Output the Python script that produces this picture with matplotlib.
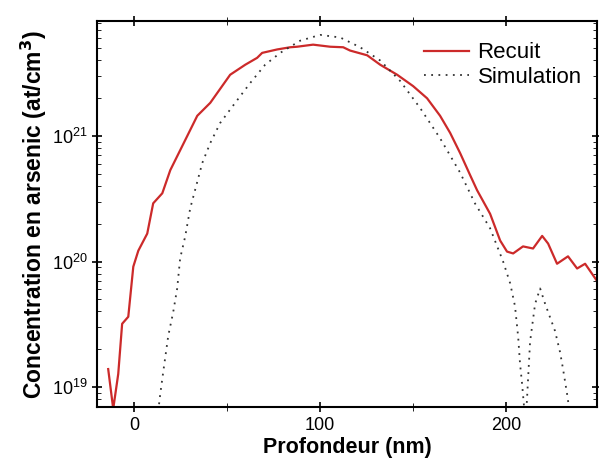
import matplotlib
matplotlib.use('Agg')
import matplotlib.pyplot as plt
import numpy as np

plt.rcParams['font.family'] = ['Liberation Sans', 'DejaVu Sans']

# Recuit (annealed) profile: depth (nm), concentration (at/cm3)
recuit_x = [-14.0, -11.3, -8.6, -6.5, -3.2, -0.5, 2.2, 7.0, 10.2, 15.1, 19.4,
            23.1, 28.5, 33.9, 40.9, 51.6, 59.7, 66.1, 68.8, 76.9, 83.9, 87.6,
            96.2, 105.4, 112.4, 116.1, 125.3, 132.3, 141.4, 150.0, 157.5,
            164.5, 169.9, 175.3, 180.6, 184.4, 191.4, 196.8, 200.5, 203.8,
            209.1, 214.5, 219.4, 222.6, 227.4, 233.3, 238.2, 242.5, 248.9]
recuit_c = [1.39e19, 6.7e18, 1.27e19, 3.19e19, 3.63e19, 9.1e19, 1.22e20,
            1.67e20, 2.91e20, 3.5e20, 5.35e20, 6.9e20, 1.0e21, 1.45e21,
            1.84e21, 3.08e21, 3.7e21, 4.2e21, 4.6e21, 4.9e21, 5.1e21, 5.15e21,
            5.35e21, 5.15e21, 5.1e21, 4.8e21, 4.4e21, 3.7e21, 3.08e21, 2.5e21,
            2.0e21, 1.45e21, 1.06e21, 7.3e20, 4.9e20, 3.7e20, 2.4e20, 1.47e20,
            1.2e20, 1.16e20, 1.32e20, 1.27e20, 1.6e20, 1.39e20, 9.6e19,
            1.1e20, 8.8e19, 9.6e19, 7.0e19]

# Simulation profile
sim_x = [12.9, 14.0, 15.6, 18.3, 21.0, 23.1, 24.7, 27.4, 30.1, 36.6, 40.9,
         46.2, 54.3, 62.4, 70.4, 78.5, 89.2, 100.0, 110.8, 121.5, 132.3,
         143.0, 153.8, 164.5, 175.3, 183.3, 191.4, 198.4, 202.2, 204.8, 206.5,
         207.5, 208.6, 210.5, 212.9, 215.6, 218.3, 221.0, 226.3, 229.0, 230.6,
         232.8, 234.4]
sim_c = [6.4e18, 8.8e18, 1.32e19, 2.56e19, 3.98e19, 6.1e19, 1.06e20, 1.58e20,
         2.65e20, 6.1e20, 8.8e20, 1.27e21, 1.84e21, 2.65e21, 3.7e21, 4.6e21,
         5.75e21, 6.4e21, 6.1e21, 5.1e21, 4.0e21, 2.75e21, 1.67e21, 9.6e20,
         5.1e20, 2.9e20, 1.84e20, 1.0e20, 6.7e19, 4.4e19, 2.5e19, 1.53e19,
         1.06e19, 5.0e18, 2.3e19, 4.6e19, 6.1e19, 4.6e19, 2.8e19, 1.9e19,
         1.4e19, 8.8e18, 6.0e18]

xticks = [0, 100, 200]

fig = plt.figure(figsize=(5.99, 4.69), dpi=100)
ax = fig.add_axes([0.162, 0.132, 0.835, 0.823])

ax.plot(recuit_x, recuit_c, color='#cc2a2a', lw=1.6, label='Recuit')
ax.plot(sim_x, sim_c, color='#333333', lw=1.3, ls=(0, (1, 3)),
        label='Simulation')

ax.set_yscale('log')
ax.set_xlim(-20, 249)
ax.set_ylim(10**18.84, 10**21.916)
ax.set_xticks(xticks)
ax.set_xticks([50, 150], minor=True)
ax.set_yticks([1e19, 1e20, 1e21])
ax.tick_params(axis='both', labelsize=13, width=1.2, length=7,
               top=True, right=True, direction='inout')
ax.tick_params(axis='y', which='minor', direction='in', length=3,
               right=True)
ax.tick_params(axis='x', which='minor', direction='inout', length=6, top=True)
for s in ax.spines.values():
    s.set_linewidth(1.5)

ax.set_xlabel('Profondeur (nm)', fontsize=15.5, fontweight='bold', labelpad=2)
ax.set_ylabel('Concentration en arsenic (at/cm$^\\mathbf{3}$)', fontsize=16.5,
              fontweight='bold', labelpad=2)

ax.legend(loc='upper right', frameon=False, fontsize=16, handlelength=2.0,
          borderaxespad=0.3, labelspacing=0.15, handletextpad=0.4,
          bbox_to_anchor=(1.0, 0.985))

fig.savefig('out.png', dpi=100)
